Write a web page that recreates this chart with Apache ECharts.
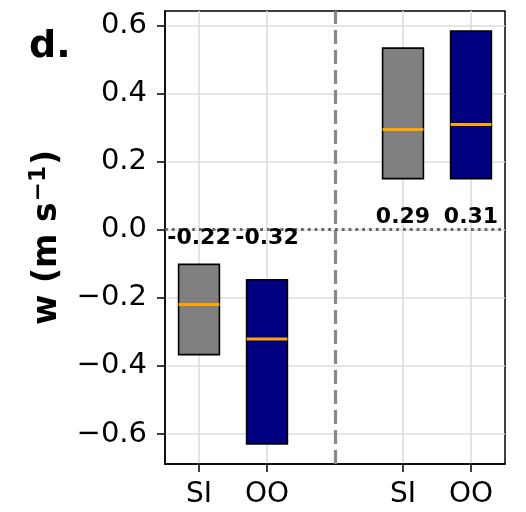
<!DOCTYPE html>
<html>
<head>
<meta charset="utf-8">
<script src="https://cdn.jsdelivr.net/npm/echarts@6/dist/echarts.min.js"></script>
<style>html,body{margin:0;padding:0;background:#fff}#c{width:526px;height:512px}</style>
</head>
<body>
<div id="c"></div>
<script>
// ---- data ----
var categories = ['SI', 'OO', '', 'SI', 'OO'];
var boxLow     = [-0.367, -0.629, null, 0.150, 0.150];
var boxHigh    = [-0.102, -0.147, null, 0.533, 0.583];
var medians    = [-0.220, -0.321, null, 0.294, 0.309];
var yTicks     = [-0.6, -0.4, -0.2, 0.0, 0.2, 0.4, 0.6];
var panelTitle = 'd.';

var fillByCategory = { 'SI': '#808080', 'OO': '#000080' };
var FONT = 'DejaVu Sans';

var tickPositions = [];
categories.forEach(function (c, i) { if (c !== '') tickPositions.push(i); });

var boxData = [];
categories.forEach(function (c, i) {
  if (boxLow[i] !== null) boxData.push([i, boxLow[i], boxHigh[i], medians[i]]);
});

function fmtY(v) {
  var s = Number(v).toFixed(1);
  return s.replace('-', '\u2212');
}

var chart = echarts.init(document.getElementById('c'), null, { renderer: 'canvas' });

chart.setOption({
  animation: false,
  backgroundColor: '#fff',
  title: {
    text: panelTitle,
    left: 29, top: 28,
    padding: 0,
    textStyle: { fontFamily: FONT, fontWeight: 'bold', fontSize: 38, color: '#000' }
  },
  grid: {
    left: 165, right: 21, top: 11, bottom: 48,
    show: true, borderColor: '#000', borderWidth: 1.5, backgroundColor: 'transparent'
  },
  xAxis: {
    type: 'value',
    min: -0.5, max: 4.5,
    axisLine: { show: true, onZero: false, lineStyle: { color: '#000', width: 1.5 } },
    axisTick: { show: true, length: 8, lineStyle: { color: '#000', width: 1.5 }, customValues: tickPositions },
    axisLabel: {
      customValues: tickPositions,
      margin: 17,
      fontFamily: FONT, fontSize: 28, color: '#000',
      formatter: function (v) { return categories[Math.round(v)]; }
    },
    splitLine: { show: true, lineStyle: { color: '#dcdcdc', width: 1.6 } }
  },
  yAxis: {
    type: 'value',
    min: -0.688, max: 0.642,
    name: '{b|w (m s}{sup|\u22121}{b|)}',
    nameLocation: 'middle',
    nameGap: 98,
    nameRotate: 90,
    nameTextStyle: {
      rich: {
        b: { fontFamily: FONT, fontWeight: 'bold', fontSize: 33, color: '#000' },
        sup: { fontFamily: FONT, fontWeight: 'bold', fontSize: 23, color: '#000', verticalAlign: 'middle', padding: [0, 1, 16, 1] }
      }
    },
    axisLine: { show: true, onZero: false, lineStyle: { color: '#000', width: 1.5 } },
    axisTick: { show: true, length: 8, lineStyle: { color: '#000', width: 1.5 }, customValues: yTicks },
    axisLabel: {
      customValues: yTicks,
      margin: 18,
      fontFamily: FONT, fontSize: 29, color: '#000',
      formatter: fmtY
    },
    splitLine: { show: true, lineStyle: { color: '#dcdcdc', width: 1.6 } }
  },
  series: [
    {
      type: 'custom',
      data: boxData,
      encode: { x: 0, y: [1, 2, 3] },
      z: 3,
      renderItem: function (params, api) {
        var xi = api.value(0);
        var lo = api.coord([xi, api.value(1)]);
        var hi = api.coord([xi, api.value(2)]);
        var md = api.coord([xi, api.value(3)]);
        var z0 = api.coord([xi, 0]);
        var w = api.size([0.6, 0])[0];
        var med = api.value(3);
        var cat = categories[xi];
        return {
          type: 'group',
          children: [
            {
              type: 'rect',
              shape: { x: lo[0] - w / 2, y: hi[1], width: w, height: lo[1] - hi[1] },
              style: { fill: fillByCategory[cat], stroke: '#000', lineWidth: 1.6 }
            },
            {
              type: 'line',
              shape: { x1: md[0] - w / 2, y1: md[1], x2: md[0] + w / 2, y2: md[1] },
              style: { stroke: '#FFA500', lineWidth: 3 }
            },
            {
              type: 'text',
              style: {
                text: med.toFixed(2),
                x: z0[0],
                y: z0[1] + (med < 0 ? 9 : -12.5),
                align: 'center', verticalAlign: 'middle',
                font: 'bold 22px "' + FONT + '"',
                fill: '#000'
              }
            }
          ]
        };
      },
      markLine: {
        silent: true,
        symbol: 'none',
        label: { show: false },
        z: 2,
        data: [
          { xAxis: 2, lineStyle: { color: '#888888', width: 3.2, type: [14, 6] } },
          { yAxis: 0, lineStyle: { color: '#666666', width: 2.8, type: [2.8, 4] } }
        ]
      }
    }
  ]
});
</script>
</body>
</html>
